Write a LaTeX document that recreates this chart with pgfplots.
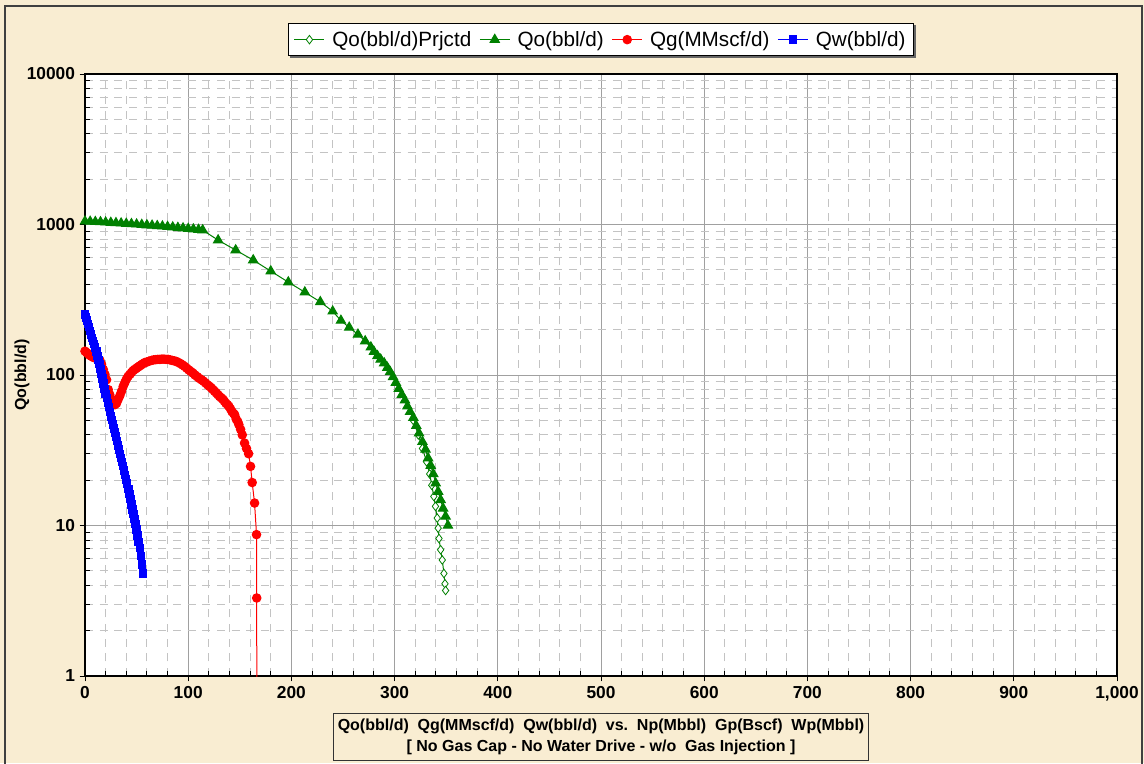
\documentclass[border=0pt]{standalone}
\usepackage{pgfplots}
\pgfplotsset{compat=1.18}
\usepackage{fontspec}
\setmainfont{Liberation Sans}
\usetikzlibrary{backgrounds}
\definecolor{bgbeige}{RGB}{249,237,210}
\definecolor{xlgreen}{RGB}{0,128,0}
\definecolor{majgrid}{RGB}{160,160,160}
\definecolor{mingrid}{RGB}{195,195,195}
\begin{document}
\begin{tikzpicture}
\useasboundingbox (0,0) rectangle (858pt,572.25pt);
\begin{axis}[
  at={(63.75pt,65.25pt)}, anchor=south west,
  width=774pt, height=451.5pt, scale only axis,
  ymode=log, xmin=0, xmax=1000, ymin=1, ymax=10000,
  axis background/.style={fill=white},
  clip mode=individual,
  xtick={0,100,...,1000},
  xticklabels={0,100,200,300,400,500,600,700,800,900,{1,000}},
  ytick={1,10,100,1000,10000},
  yticklabels={1,10,100,1000,10000},
  minor x tick num=4,
  minor ytick={2,3,4,5,6,7,8,9,20,30,40,50,60,70,80,90,200,300,400,500,600,700,800,900,2000,3000,4000,5000,6000,7000,8000,9000},
  grid=both,
  major grid style={majgrid, line width=0.75pt},
  minor grid style={mingrid, line width=0.75pt, dash pattern=on 6pt off 5pt},
  tick align=outside,
  major tick length=4pt,
  minor tick length=-3.5pt,
  tick pos=left,
  tick style={black, line width=0.75pt},
  axis line style={black, line width=1pt},
  ticklabel style={font=\fontsize{13}{15}\selectfont\bfseries},
  ylabel={Qo(bbl/d)},
  ylabel style={font=\fontsize{12}{14}\selectfont\bfseries, at={(axis description cs:-0.061,0.5)}, anchor=center},
  xlabel={Qo(bbl/d)\hspace{0.55em}Qg(MMscf/d)\hspace{0.55em}Qw(bbl/d)\hspace{0.55em}vs.\hspace{0.55em}Np(Mbbl)\hspace{0.55em}Gp(Bscf)\hspace{0.55em}Wp(Mbbl)\\ {[} No Gas Cap - No Water Drive - w/o\hspace{0.55em}Gas Injection ]},
  xlabel style={at={(axis description cs:0.5,0)}, anchor=north, yshift=-27.75pt, draw=black!80, line width=0.8pt, fill=bgbeige, align=center, font=\fontsize{12}{15.75}\selectfont\bfseries, inner xsep=3.5pt, inner ysep=4pt},
  legend columns=4,
  legend style={name=leg, at={(axis description cs:0.5,1)}, anchor=south, yshift=13.5pt, draw=black, line width=0.8pt, fill=white, font=\fontsize{15.5}{17}\selectfont, inner ysep=3.5pt, inner xsep=4pt,
    /tikz/every odd column/.style={column sep=3.5pt},
    /tikz/every even column/.style={column sep=4pt}},
  legend image code/.code={\draw[mark repeat=2,mark phase=2,#1] plot coordinates {(0pt,0pt) (11.25pt,0pt) (22.5pt,0pt)};},
]
\addplot[xlgreen, line width=0.75pt, mark=diamond*, mark size=3.2pt, mark options={fill=white, solid, line width=0.6pt}] coordinates {
(318,50)(323,40)(327,32.5)(331,26.5)(334,22)(336,18.5)(338,15.6)(339.6,13.4)(341.3,11.2)(342.2,9.6)(343,8.2)(344.6,6.9)(346.2,5.9)(347.8,4.8)(348.8,4.1)(349.4,3.7)
};
\addlegendentry{Qo(bbl/d)Prjctd}
\addplot[xlgreen, line width=0.75pt, mark=triangle*, mark size=4pt] coordinates {
(0,1050)(5,1046)(10,1042)(15,1038)(20,1034)(25,1029)(30,1024)(35,1019)(40,1014)(45,1009)(50,1003)(55,997)(60,991)(65,985)(70,979)(75,973)(80,966)(85,959)(90,952)(95,945)(100,938)(105,931)(110,924)(114,918)
(129,787)(146,676)(163,580)(180,490)(197,414)(213,355)(228,306)(240,265)(248,230)(256,207)(264.5,186)(271.5,168)(277,153)(280,143)(283.4,134)(286.5,127)(289.9,120)(293,112)(295.7,105)(298.5,97)(301.2,89)(304,81)(307,74)(310,68)(312.4,62)(315,57)(318.2,52)(321,46)(323.7,41)(327,36)(330,32)(332.5,28)(335,25)(337.5,22)(339.8,19.1)(342.2,16.8)(344.6,14.8)(347,13)(349.4,11.5)(351.7,10)
};
\addlegendentry{Qo(bbl/d)}
\addplot[red, line width=0.75pt, mark=*, mark size=3.2pt] coordinates {
(0,144)(1.6,141)(3.2,138)(4.8,135)(6.4,133)(8,131)(9.6,130)(11.2,129)(12.8,128)(14.5,125)(16,118)(17.7,109)(19.3,101)(20.9,93)(22.5,80)(24,74)(25.8,69)(27.4,66)(29,63.5)(30.6,65)(32.2,69)(33.8,73)(35.4,78)(37,84)(38.6,89)(40.2,94)(41.8,98)(43.5,101)(45.1,104)(46.7,107)(48.3,109)(49.9,111)(51.5,113)(53.1,115)(54.7,117)(56.3,119)(58,121)(60,122)(62,123.5)(64.4,125)(66.4,126)(68.5,126.5)(70.5,127)(72.5,127)(74.5,127.5)(76.5,127.5)(78.5,127)(80.5,127)(82.5,126)(84.5,125)(86.6,124)(88.6,123)(90.6,121)(92.6,119)(94.6,116.5)(96.6,114)(98.6,111)(100.6,108)(102.6,105.5)(104.6,103)(106.6,100)(108.7,97.5)(110.7,95)(112.8,93)(114.8,91)(116.8,88.5)(118.8,86)(120.8,84)(122.4,82)(124,80)(125.6,78)(127.2,76)(128.8,74)(130.4,72)(132,70.5)(133.6,69)(135,67)(136.5,65)(138,63.5)(139.4,62)(141,59.5)(142.5,57)(144,55.5)(145,54.5)(146.5,51)(148,49)(149.1,46.8)(150.8,43.5)(152.4,40)(154.6,35.3)(156.5,32.5)(158.5,30)(160.4,24.7)(162,19.3)(164.3,14.1)(166.2,8.7)(166.4,3.3)
};
\addlegendentry{Qg(MMscf/d)}
\addplot[blue, line width=0.75pt, mark=square*, mark size=2.75pt] coordinates {
(0,252)(1,241)(2,230)(3,219)(4,208)(5,197)(6,186)(7,176)(8,168)(9,160)(10,152)(11,143)(12,134)(13,126)(14,118)(15,110)(16,102)(17,95)(18,88)(19,81)(20,75)(21,70)(22,65)(23,61)(24,57)(25,53)(26,50)(27,47)(28,44)(29,41.5)(30,39)(31,36.5)(32,34)(33,32)(34,30)(35,28.2)(36,26.5)(37,24.8)(38,23.2)(39,21.6)(40,20.2)(41,19)(42,17.5)(43,16.2)(44,15)(45,13.8)(46,12.8)(47,11.9)(48,11)(49,10.2)(50,9.4)(51,8.6)(52,7.8)(53,7.1)(54,6.3)(55,5.5)(56,4.8)
};
\addlegendentry{Qw(bbl/d)}
\addplot[red, line width=0.75pt, forget plot] coordinates {(166.4,3.3)(166.5,0.1)};
\end{axis}
\begin{scope}[on background layer]
\fill[bgbeige] (0,0) rectangle (858pt,572.25pt);
\draw[black!75, line width=0.8pt] (3.75pt,-5pt) rectangle (856.5pt,567.75pt);
\fill[black!60] ([shift={(1.5pt,-1.5pt)}]leg.south west) rectangle ([shift={(1.5pt,-1.5pt)}]leg.north east);
\end{scope}
\end{tikzpicture}
\end{document}
